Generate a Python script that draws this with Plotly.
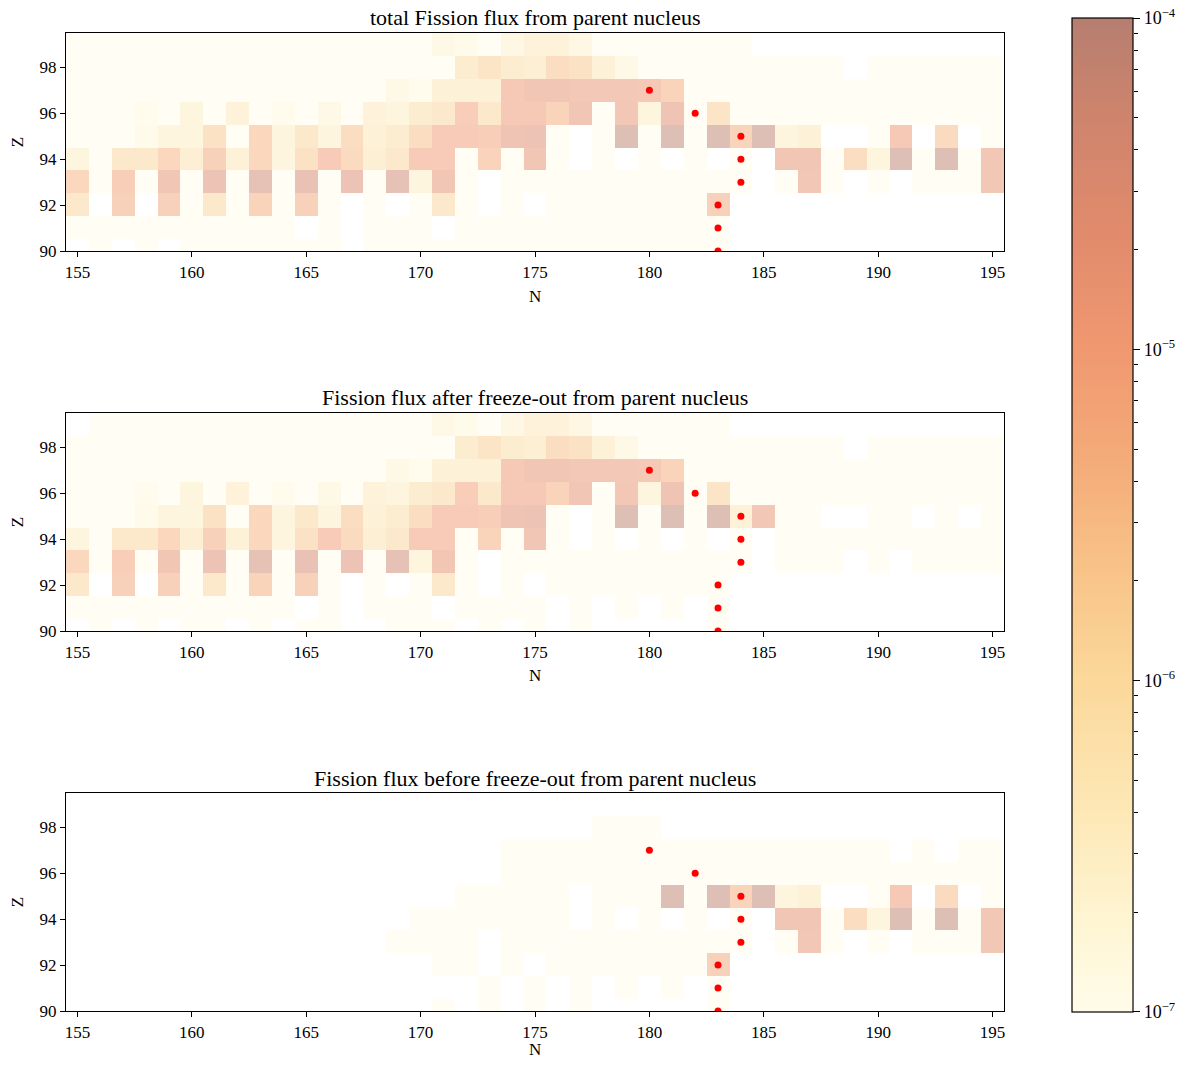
import plotly.graph_objects as go
import math

na = None
N_vals = list(range(155, 196))
Z_vals = list(range(90, 100))
panel_titles = ["total Fission flux from parent nucleus",
                "Fission flux after freeze-out from parent nucleus",
                "Fission flux before freeze-out from parent nucleus"]
cbar_decades = [-7, -6, -5, -4]

# log10 of flux; rows Z=90..99, columns N=155..195
total_log10 = [
    # Z=90
    [na, -7, na, -7, na, -7, -7, -7, -7, -7, -7, -7, na, -7, -7, -7, -7, -7, -7, -7,
     -7, -7, -7, -7, -7, -7, -7, -7, -7, na, na, na, na, na, na, na, na, na, na, na, na],
    # Z=91
    [-7, -7, -7, -7, -7, -7, -7, -7, -7, -7, na, -7, na, -7, -7, -7, na, -7, -7, -7,
     -7, -7, -7, -7, -7, -7, -7, -7, -7, na, na, na, na, na, na, na, na, na, na, na, na],
    # Z=92
    [-5.9, na, -5.2, na, -5.2, -7, -5.9, -7, -5.3, -7, -5.2, -7, na, -7, na, -7, -5.9, -7, na, -7,
     na, -7, -7, -7, -7, -7, -7, -7, -5.2, na, na, na, na, na, na, na, na, na, na, na, na],
    # Z=93
    [-5.4, -7, -5.1, -7, -4.7, -7, -4.5, -7, -4.3, -7, -4.4, -7, -4.5, -7, -4.3, -6.5, -4.7, -7, na, -7,
     -7, -7, -7, -7, -7, -7, -7, -7, -7, -7, na, -7, -4.8, -7, na, -7, na, -7, -7, -7, -4.8],
    # Z=94
    [-6.5, -7, -5.9, -5.9, -5.4, -6.2, -5.2, -6.3, -5.4, -6.5, -5.7, -5.0, -5.5, -6.2, -5.9, -5.0, -5.0, -7, -5.3, -7,
     -4.7, -7, na, -7, na, -7, na, -7, na, -7, na, -4.7, -4.7, -7, -5.6, -6.5, -4.1, -7, -4.1, -7, -4.8],
    # Z=95
    [-7, -7, -7, -6.8, -6.5, -6.5, -5.7, -7, -5.4, -6.5, -5.9, -6.5, -5.6, -6.3, -6.1, -5.6, -5.0, -5.0, -5.1, -4.6,
     -4.5, -7, na, -7, -4.1, -7, -4.1, -7, -4.1, -5.3, -4.1, -6.5, -6.3, na, na, -7, -4.9, na, -5.5, na, -7],
    # Z=96
    [-7, -7, -7, -6.85, -7, -6.5, -7, -6.4, -7, -6.85, -7, -6.7, -7, -6.4, -6.5, -6.1, -5.9, -5.1, -5.9, -4.9,
     -4.9, -5.3, -4.7, -7, -4.8, -6.5, -4.6, -7, -5.8, -7, -7, -7, -7, -7, -7, -7, -7, -7, -7, -7, -7],
    # Z=97
    [-7, -7, -7, -7, -7, -7, -7, -7, -7, -7, -7, -7, -7, -7, -6.7, -6.85, -6.3, -6.3, -6.3, -4.9,
     -4.7, -4.7, -4.85, -4.85, -4.85, -4.9, -5.3, -7, -7, -7, -7, -7, -7, -7, -7, -7, -7, -7, -7, -7, -7],
    # Z=98
    [-7, -7, -7, -7, -7, -7, -7, -7, -7, -7, -7, -7, -7, -7, -7, -7, -7, -6.1, -5.8, -6.1,
     -6.2, -5.6, -5.7, -6.3, -6.7, -7, -7, -7, -7, -7, -7, -7, -7, -7, na, -7, -7, -7, -7, -7, -7],
    # Z=99
    [-7, -7, -7, -7, -7, -7, -7, -7, -7, -7, -7, -7, -7, -7, -7, -7, -6.7, -6.8, -7, -6.6,
     -6.4, -6.4, -6.6, -7, -7, -7, -7, -7, -7, -7, na, na, na, na, na, na, na, na, na, na, na],
]

after_log10 = [
    # Z=90
    [na, -7, na, -7, na, -7, -7, na, -7, na, -7, -7, na, na, -7, -7, -7, na, -7, na,
     -7, na, -7, na, na, na, na, na, -7, na, na, na, na, na, na, na, na, na, na, na, na],
    # Z=91
    [-7, -7, -7, -7, -7, -7, -7, -7, -7, -7, na, -7, na, -7, -7, -7, na, -7, -7, -7,
     -7, na, -7, na, -7, na, -7, na, -7, na, na, na, na, na, na, na, na, na, na, na, na],
    # Z=92
    [-5.9, na, -5.2, na, -5.2, -7, -5.9, -7, -5.3, -7, -5.2, -7, na, -7, na, -7, -5.9, -7, na, -7,
     na, -7, -7, -7, -7, -7, -7, -7, -7, na, na, na, na, na, na, na, na, na, na, na, na],
    # Z=93
    [-5.4, -7, -5.1, -7, -4.7, -7, -4.5, -7, -4.3, -7, -4.4, -7, -4.5, -7, -4.3, -6.5, -4.7, -7, na, -7,
     -7, -7, -7, -7, -7, -7, -7, -7, -7, -7, na, -7, -7, -7, na, -7, na, -7, -7, -7, -7],
    # Z=94
    [-6.5, -7, -5.9, -5.9, -5.4, -6.2, -5.2, -6.3, -5.4, -6.5, -5.7, -5.0, -5.5, -6.2, -5.9, -5.0, -5.0, -7, -5.3, -7,
     -4.7, -7, na, -7, na, -7, na, -7, na, -7, na, -7, -7, -7, -7, -7, -7, -7, -7, -7, -7],
    # Z=95
    [-7, -7, -7, -6.8, -6.5, -6.5, -5.7, -7, -5.4, -6.5, -5.9, -6.5, -5.6, -6.3, -6.1, -5.6, -5.0, -5.0, -5.1, -4.6,
     -4.5, -7, na, -7, -4.1, -7, -4.1, -7, -4.1, -6.3, -4.8, -7, -7, na, na, -7, -7, na, -7, na, -7],
    # Z=96
    [-7, -7, -7, -6.85, -7, -6.5, -7, -6.4, -7, -6.85, -7, -6.7, -7, -6.4, -6.5, -6.1, -5.9, -5.1, -5.9, -4.9,
     -4.9, -5.3, -4.7, -7, -4.8, -6.5, -4.6, -7, -5.8, -7, -7, -7, -7, -7, -7, -7, -7, -7, -7, -7, -7],
    # Z=97
    [-7, -7, -7, -7, -7, -7, -7, -7, -7, -7, -7, -7, -7, -7, -6.7, -6.85, -6.3, -6.3, -6.3, -4.9,
     -4.7, -4.7, -4.85, -4.85, -4.85, -4.9, -5.3, -7, -7, -7, -7, -7, -7, -7, -7, -7, -7, -7, -7, -7, -7],
    # Z=98
    [-7, -7, -7, -7, -7, -7, -7, -7, -7, -7, -7, -7, -7, -7, -7, -7, -7, -6.1, -5.8, -6.1,
     -6.2, -5.6, -5.7, -6.3, -6.7, -7, -7, -7, -7, -7, -7, -7, -7, -7, na, -7, -7, -7, -7, -7, -7],
    # Z=99
    [na, -7, -7, -7, -7, -7, -7, -7, -7, -7, -7, -7, -7, -7, -7, -7, -6.7, -6.8, -7, -6.6,
     -6.4, -6.4, -6.6, -7, -7, -7, -7, -7, -7, na, na, na, na, na, na, na, na, na, na, na, na],
]

before_log10 = [
    # Z=90
    [na, na, na, na, na, na, na, na, na, na, na, na, na, na, na, na, -7, na, -7, na,
     -7, na, -7, na, na, na, na, na, -7, na, na, na, na, na, na, na, na, na, na, na, na],
    # Z=91
    [na, na, na, na, na, na, na, na, na, na, na, na, na, na, na, na, na, na, -7, na,
     -7, na, -7, na, -7, na, -7, na, -7, na, na, na, na, na, na, na, na, na, na, na, na],
    # Z=92
    [na, na, na, na, na, na, na, na, na, na, na, na, na, na, na, na, -7, -7, na, -7,
     na, -7, -7, -7, -7, -7, -7, -7, -5.2, na, na, na, na, na, na, na, na, na, na, na, na],
    # Z=93
    [na, na, na, na, na, na, na, na, na, na, na, na, na, na, -7, -7, -7, -7, na, -7,
     -7, -7, -7, -7, -7, -7, -7, -7, -7, -7, na, -7, -4.8, -7, na, -7, na, -7, -7, -7, -4.8],
    # Z=94
    [na, na, na, na, na, na, na, na, na, na, na, na, na, na, na, -7, -7, -7, -7, -7,
     -7, -7, na, -7, na, -7, na, -7, na, -7, na, -4.7, -4.7, -7, -5.6, -6.5, -4.1, -7, -4.1, -7, -4.8],
    # Z=95
    [na, na, na, na, na, na, na, na, na, na, na, na, na, na, na, na, na, -7, -7, -7,
     -7, -7, na, -7, -7, -7, -4.1, -7, -4.1, -5.3, -4.1, -6.5, -6.3, na, na, -7, -4.9, na, -5.5, na, -7],
    # Z=96
    [na, na, na, na, na, na, na, na, na, na, na, na, na, na, na, na, na, na, na, -7,
     -7, -7, -7, -7, -7, -7, -7, -7, -7, -7, -7, -7, -7, -7, -7, -7, -7, -7, -7, -7, -7],
    # Z=97
    [na, na, na, na, na, na, na, na, na, na, na, na, na, na, na, na, na, na, na, -7,
     -7, -7, -7, -7, -7, -7, -7, -7, -7, -7, -7, -7, -7, -7, -7, -7, na, -7, na, -7, -7],
    # Z=98
    [na, na, na, na, na, na, na, na, na, na, na, na, na, na, na, na, na, na, na, na,
     na, na, na, -7, -7, -7, na, na, na, na, na, na, na, na, na, na, na, na, na, na, na],
    # Z=99
    [na] * 41,
]

marker_N = [180, 182, 184, 184, 184, 183, 183, 183]
marker_Z = [97, 96, 95, 94, 93, 92, 91, 90]

colorscale = [
    [0.0, 'rgb(255,252,233)'], [0.1, 'rgb(254,244,208)'], [0.2, 'rgb(253,232,182)'],
    [0.333, 'rgb(251,216,155)'], [0.45, 'rgb(248,194,135)'], [0.55, 'rgb(244,172,122)'],
    [0.667, 'rgb(240,152,112)'], [0.78, 'rgb(226,139,108)'], [0.9, 'rgb(206,132,108)'],
    [1.0, 'rgb(182,126,112)'],
]

# the page body has an 8 px margin; lay out in page pixels and shift by it
OFF = 8
W, H = 1187 - 2 * OFF, 1065 - 2 * OFF


def px_x(p):
    return (p - OFF) / W


def px_y(p):
    return 1 - (p - OFF) / H


x_dom = [px_x(66), px_x(1004)]
panel_px = [(33, 251), (413, 631), (793, 1011)]
xlabel_gap = [45, 44, 38]
cbar_px = (1072, 1133, 18, 1012)  # left, right, top, bottom
font_family = "Liberation Serif"
ZMIN, ZMAX = -7, -4

fig = go.Figure()

cb_tickpos = [min(max(d, ZMIN + 1e-4), ZMAX - 1e-4) for d in cbar_decades]

datasets = [total_log10, after_log10, before_log10]
for i, data in enumerate(datasets):
    xa = "x" if i == 0 else "x%d" % (i + 1)
    ya = "y" if i == 0 else "y%d" % (i + 1)
    fig.add_trace(go.Heatmap(
        x=N_vals, y=Z_vals, z=data, zmin=ZMIN, zmax=ZMAX, colorscale=colorscale,
        opacity=0.5, xaxis=xa, yaxis=ya, hoverongaps=False,
        showscale=(i == 0),
        colorbar=dict(
            x=px_x(cbar_px[0]), xanchor="left", xpad=0, ypad=0,
            thickness=cbar_px[1] - cbar_px[0],
            y=(px_y(cbar_px[2]) + px_y(cbar_px[3])) / 2, yanchor="middle",
            len=(cbar_px[3] - cbar_px[2]) / H, lenmode="fraction",
            outlinecolor="black", outlinewidth=1.2,
            tickmode="array", tickvals=cb_tickpos,
            ticktext=["10<sup>\u2212%d</sup>" % (-d) for d in cbar_decades],
            ticks="outside", ticklen=7, tickcolor="black", tickwidth=1,
            ticklabeloverflow="allow",
            tickfont=dict(family=font_family, size=18, color="black"),
        ),
    ))
    fig.add_trace(go.Scatter(
        x=marker_N, y=marker_Z, mode="markers", xaxis=xa, yaxis=ya,
        marker=dict(color="red", size=7), showlegend=False, cliponaxis=True,
    ))

axis_font = dict(family=font_family, size=17, color="black")
for i, (top, bot) in enumerate(panel_px):
    sfx = "" if i == 0 else str(i + 1)
    ydom = [px_y(bot), px_y(top)]
    fig.layout["xaxis" + sfx] = dict(
        domain=x_dom, range=[154.5, 195.5], anchor="y" + sfx, automargin=False,
        tickmode="array", tickvals=[155, 160, 165, 170, 175, 180, 185, 190, 195],
        ticks="outside", ticklen=5, tickcolor="black",
        showline=True, linecolor="black", linewidth=1.2, mirror=True,
        showgrid=False, zeroline=False, tickfont=axis_font,
    )
    fig.layout["yaxis" + sfx] = dict(
        domain=ydom, range=[90, 99.5], anchor="x" + sfx, automargin=False,
        tickmode="array", tickvals=[90, 92, 94, 96, 98],
        ticks="outside", ticklen=5, tickcolor="black",
        showline=True, linecolor="black", linewidth=1.2, mirror=True,
        showgrid=False, zeroline=False, tickfont=axis_font,
        title=dict(text="Z", standoff=11, font=axis_font),
    )
    # x-axis label "N"
    fig.add_annotation(
        text="N", xref="paper", yref="paper",
        x=(x_dom[0] + x_dom[1]) / 2, y=px_y(bot + xlabel_gap[i]),
        xanchor="center", yanchor="middle", showarrow=False, font=axis_font,
    )
    fig.add_annotation(
        text=panel_titles[i], xref="paper", yref="paper",
        x=(x_dom[0] + x_dom[1]) / 2, y=px_y(top - 15),
        xanchor="center", yanchor="middle", showarrow=False,
        font=dict(family=font_family, size=22, color="black"),
    )

# minor ticks for the log colour bar, drawn with a hidden helper axis
minor_vals = [d + math.log10(m) for d in cbar_decades[:-1] for m in range(2, 10)]
fig.add_trace(go.Scatter(x=[None], y=[None], xaxis="x4", yaxis="y4",
                         showlegend=False, hoverinfo="skip"))
fig.layout["xaxis4"] = dict(domain=[px_x(cbar_px[0]), px_x(cbar_px[1])], visible=False,
                            anchor="y4", range=[0, 1])
fig.layout["yaxis4"] = dict(domain=[px_y(cbar_px[3]), px_y(cbar_px[2])],
                            range=[ZMIN, ZMAX], anchor="x4", side="right", automargin=False,
                            tickmode="array", tickvals=minor_vals, ticks="outside",
                            ticklen=4, tickcolor="black", showticklabels=False,
                            showgrid=False, zeroline=False, showline=False)

fig.update_layout(
    width=W, height=H, margin=dict(l=0, r=0, t=0, b=0),
    paper_bgcolor="white", plot_bgcolor="rgba(0,0,0,0)", showlegend=False,
)

fig.write_html("out.html")
